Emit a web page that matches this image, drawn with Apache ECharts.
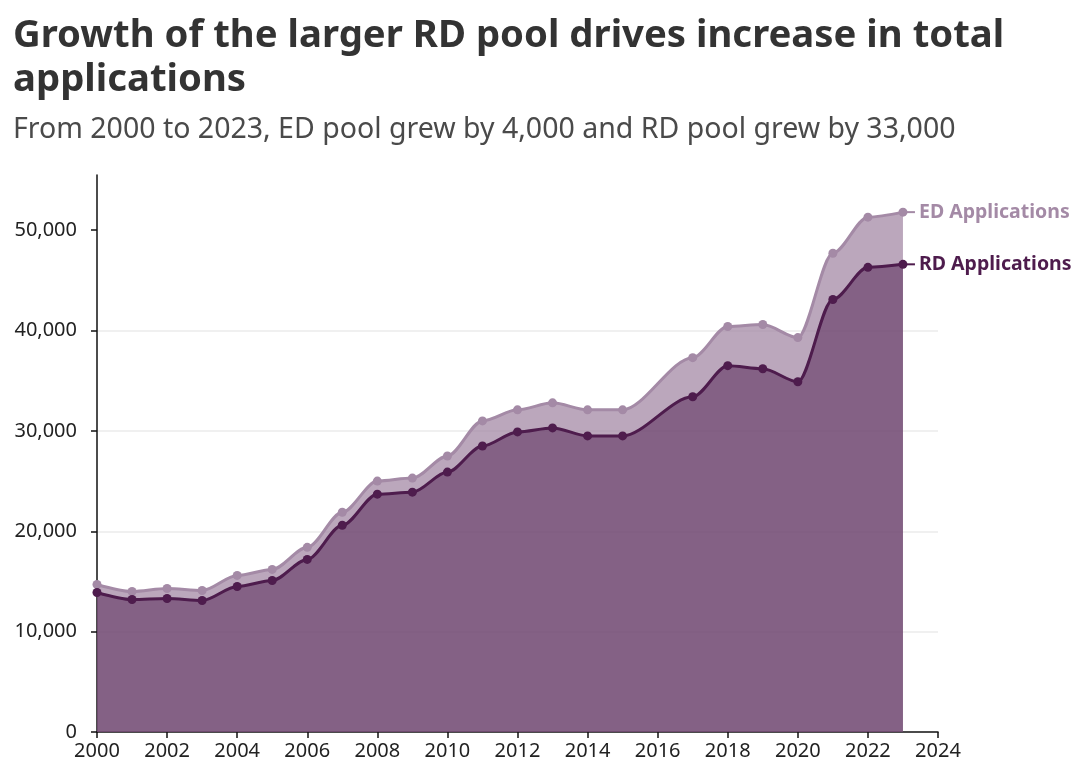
<!DOCTYPE html>
<html>
<head>
<meta charset="utf-8">
<script src="https://cdn.jsdelivr.net/npm/echarts@6/dist/echarts.min.js"></script>
<style>
html,body{margin:0;padding:0;background:#fff;}
#chart{width:1080px;height:770px;}
</style>
</head>
<body>
<div id="chart"></div>
<script>
// Data (years; 2016 not plotted in the reference)
const years = [2000,2001,2002,2003,2004,2005,2006,2007,2008,2009,2010,2011,2012,2013,2014,2015,2017,2018,2019,2020,2021,2022,2023];
const rdApplications = [13900,13200,13300,13100,14500,15100,17200,20600,23700,23900,25900,28500,29900,30300,29500,29500,33400,36500,36200,34900,43100,46300,46600];
const edApplications = [800,800,1000,1000,1100,1100,1200,1300,1300,1400,1600,2500,2200,2500,2600,2600,3900,3900,4400,4400,4600,5000,5200];
const yTicks = [0,10000,20000,30000,40000,50000];
const xTicks = [2000,2002,2004,2006,2008,2010,2012,2014,2016,2018,2020,2022,2024];

const edColor = '#a48aa6';
const rdColor = '#4e1c4d';

const rdData = years.map((y,i)=>[y, rdApplications[i]]);
const totalData = years.map((y,i)=>[y, rdApplications[i] + edApplications[i]]);

const chart = echarts.init(document.getElementById('chart'));
const fontFamily = '"Noto Sans", Lato, sans-serif';

function endLabel(text, color){
  return {
    show: true,
    distance: 4,
    formatter: '{c|}{t|' + text + '}',
    rich: {
      c: {width: 8, height: 2, backgroundColor: color},
      t: {color: color, fontFamily: fontFamily, fontSize: 19.5, fontWeight: 'bold', padding: [0,0,0,4]}
    }
  };
}

chart.setOption({
  animation: false,
  textStyle: {fontFamily: fontFamily},
  title: [
    {
      text: 'Growth of the larger RD pool drives increase in total\napplications',
      left: 8, top: 9,
      textStyle: {fontFamily: fontFamily, fontSize: 38.3, fontWeight: 'bold', color: '#333333', lineHeight: 44}
    },
    {
      text: 'From 2000 to 2023, ED pool grew by 4,000 and RD pool grew by 33,000',
      left: 8, top: 110,
      textStyle: {fontFamily: fontFamily, fontSize: 28.5, fontWeight: 'normal', color: '#4a4a4a'}
    }
  ],
  grid: {left: 97, right: 142, top: 175, bottom: 38},
  xAxis: {
    type: 'value',
    min: 2000, max: 2024, interval: 2,
    axisLine: {show: true, lineStyle: {color: '#111', width: 1.5}},
    axisTick: {show: true, length: 6, lineStyle: {color: '#111', width: 1.5}},
    axisLabel: {color: '#222', fontSize: 20, fontFamily: fontFamily, margin: 9, formatter: v => String(v), customValues: xTicks},
    splitLine: {show: false}
  },
  yAxis: {
    type: 'value',
    min: 0, max: 55500, interval: 10000,
    axisLine: {show: true, lineStyle: {color: '#111', width: 1.5}},
    axisTick: {show: true, length: 6, lineStyle: {color: '#111', width: 1.5}, customValues: yTicks},
    axisLabel: {color: '#222', fontSize: 20, fontFamily: fontFamily, margin: 20, customValues: yTicks,
      formatter: v => v.toLocaleString('en-US')},
    splitLine: {show: true, showMinLine: false, showMaxLine: false, lineStyle: {color: '#ebebeb', width: 1.5}}
  },
  series: [
    {
      name: 'ED Applications',
      type: 'line',
      data: totalData,
      smooth: 0.3,
      smoothMonotone: 'x',
      symbol: 'circle', symbolSize: 9,
      lineStyle: {color: edColor, width: 3},
      itemStyle: {color: edColor},
      areaStyle: {color: edColor, opacity: 0.75, origin: 'start'},
      endLabel: endLabel('ED Applications', edColor),
      z: 2
    },
    {
      name: 'RD Applications',
      type: 'line',
      data: rdData,
      smooth: 0.3,
      smoothMonotone: 'x',
      symbol: 'circle', symbolSize: 9,
      lineStyle: {color: rdColor, width: 3},
      itemStyle: {color: rdColor},
      areaStyle: {color: rdColor, opacity: 0.5, origin: 'start'},
      endLabel: endLabel('RD Applications', rdColor),
      z: 3
    }
  ]
});
</script>
</body>
</html>
